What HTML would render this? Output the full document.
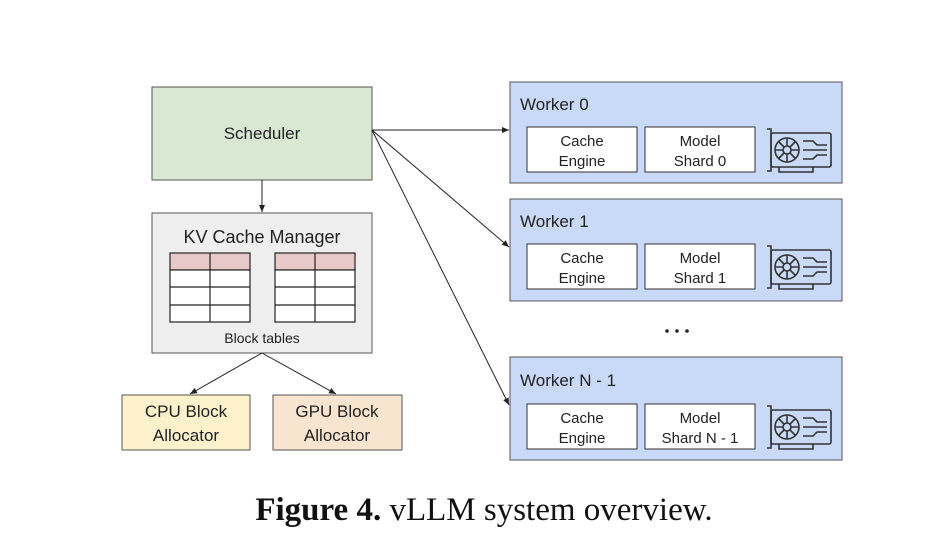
<!DOCTYPE html>
<html><head><style>body{margin:0;background:#fff}svg{display:block}</style></head><body>
<svg width="931" height="544" viewBox="0 0 931 544" xmlns="http://www.w3.org/2000/svg" font-family="Liberation Sans, sans-serif">
<defs>
<marker id="a" markerWidth="8" markerHeight="8" refX="7" refY="4" orient="auto" markerUnits="userSpaceOnUse"><path d="M0,1 L7,4 L0,7 z" fill="#222"/></marker>
<g id="gpu" fill="none" stroke="#333" stroke-width="1.6">
<path d="M0,2 h4 v42 h-4"/><rect x="4" y="6" width="60" height="34" rx="2"/>
<circle cx="20" cy="23" r="12"/><circle cx="20" cy="23" r="4"/>
<path d="M20,11 v8 M20,27 v8 M8,23 h8 M24,23 h8 M12,15 l5,5 M23,26 l5,5 M28,15 l-5,5 M12,31 l5,-5"/>
<path d="M36,14 h10 l4,4 h10 M36,23 h24 M36,32 h10 l4,-4 h10"/>
<path d="M12,40 v5 h34 v-5"/>
</g>
</defs>
<rect x="152" y="87" width="220" height="93" fill="#d9e8d3" stroke="#555"/>
<text x="262" y="139" font-size="17" text-anchor="middle" fill="#222">Scheduler</text>
<line x1="262" y1="180" x2="262" y2="212" stroke="#222" marker-end="url(#a)"/>
<rect x="152" y="213" width="220" height="140" fill="#efefef" stroke="#555"/>
<text x="262" y="243" font-size="18" text-anchor="middle" fill="#222">KV Cache Manager</text>
<g stroke="#222" stroke-width="1.2">
<rect x="170" y="253" width="80" height="17" fill="#e8c9c9"/><rect x="170" y="270" width="80" height="52" fill="#fff"/>
<path d="M210,253 v69 M170,287 h80 M170,305 h80" fill="none"/>
<rect x="275" y="253" width="80" height="17" fill="#e8c9c9"/><rect x="275" y="270" width="80" height="52" fill="#fff"/>
<path d="M315,253 v69 M275,287 h80 M275,305 h80" fill="none"/>
</g>
<text x="262" y="343" font-size="14" text-anchor="middle" fill="#222">Block tables</text>
<line x1="262" y1="353" x2="190" y2="394" stroke="#222" marker-end="url(#a)"/>
<line x1="262" y1="353" x2="336" y2="394" stroke="#222" marker-end="url(#a)"/>
<rect x="122" y="395" width="128" height="55" fill="#fdf1cc" stroke="#555"/>
<text x="186" y="417" font-size="17" text-anchor="middle" fill="#222">CPU Block</text>
<text x="186" y="441" font-size="17" text-anchor="middle" fill="#222">Allocator</text>
<rect x="273" y="395" width="129" height="55" fill="#f9e5cf" stroke="#555"/>
<text x="337" y="417" font-size="17" text-anchor="middle" fill="#222">GPU Block</text>
<text x="337" y="441" font-size="17" text-anchor="middle" fill="#222">Allocator</text>
<line x1="372" y1="130" x2="509" y2="130" stroke="#222" marker-end="url(#a)"/>
<line x1="372" y1="130" x2="509" y2="247" stroke="#222" marker-end="url(#a)"/>
<line x1="372" y1="130" x2="509" y2="405" stroke="#222" marker-end="url(#a)"/>
<g>
<rect x="510" y="82" width="332" height="101" fill="#c9daf8" stroke="#555"/>
<text x="520" y="110" font-size="17" fill="#222">Worker 0</text>
<rect x="527" y="127" width="110" height="45" fill="#fff" stroke="#333"/>
<text x="582" y="146" font-size="15" text-anchor="middle" fill="#222">Cache</text><text x="582" y="166" font-size="15" text-anchor="middle" fill="#222">Engine</text>
<rect x="645" y="127" width="110" height="45" fill="#fff" stroke="#333"/>
<text x="700" y="146" font-size="15" text-anchor="middle" fill="#222">Model</text><text x="700" y="166" font-size="15" text-anchor="middle" fill="#222">Shard 0</text>
<use href="#gpu" x="767" y="127"/>
</g>
<g>
<rect x="510" y="199" width="332" height="102" fill="#c9daf8" stroke="#555"/>
<text x="520" y="227" font-size="17" fill="#222">Worker 1</text>
<rect x="527" y="244" width="110" height="45" fill="#fff" stroke="#333"/>
<text x="582" y="263" font-size="15" text-anchor="middle" fill="#222">Cache</text><text x="582" y="283" font-size="15" text-anchor="middle" fill="#222">Engine</text>
<rect x="645" y="244" width="110" height="45" fill="#fff" stroke="#333"/>
<text x="700" y="263" font-size="15" text-anchor="middle" fill="#222">Model</text><text x="700" y="283" font-size="15" text-anchor="middle" fill="#222">Shard 1</text>
<use href="#gpu" x="767" y="244"/>
</g>
<g fill="#222"><circle cx="667" cy="331" r="1.8"/><circle cx="677" cy="331" r="1.8"/><circle cx="687" cy="331" r="1.8"/></g>
<g>
<rect x="510" y="357" width="332" height="103" fill="#c9daf8" stroke="#555"/>
<text x="520" y="386" font-size="17" fill="#222">Worker N - 1</text>
<rect x="527" y="404" width="110" height="45" fill="#fff" stroke="#333"/>
<text x="582" y="423" font-size="15" text-anchor="middle" fill="#222">Cache</text><text x="582" y="443" font-size="15" text-anchor="middle" fill="#222">Engine</text>
<rect x="645" y="404" width="110" height="45" fill="#fff" stroke="#333"/>
<text x="700" y="423" font-size="15" text-anchor="middle" fill="#222">Model</text><text x="700" y="443" font-size="15" text-anchor="middle" fill="#222">Shard N - 1</text>
<use href="#gpu" x="767" y="404"/>
</g>
<text x="484" y="520" font-size="33" text-anchor="middle" font-family="Liberation Serif, serif" fill="#111"><tspan font-weight="bold">Figure 4.</tspan> vLLM system overview.</text>
</svg>
</body></html>
